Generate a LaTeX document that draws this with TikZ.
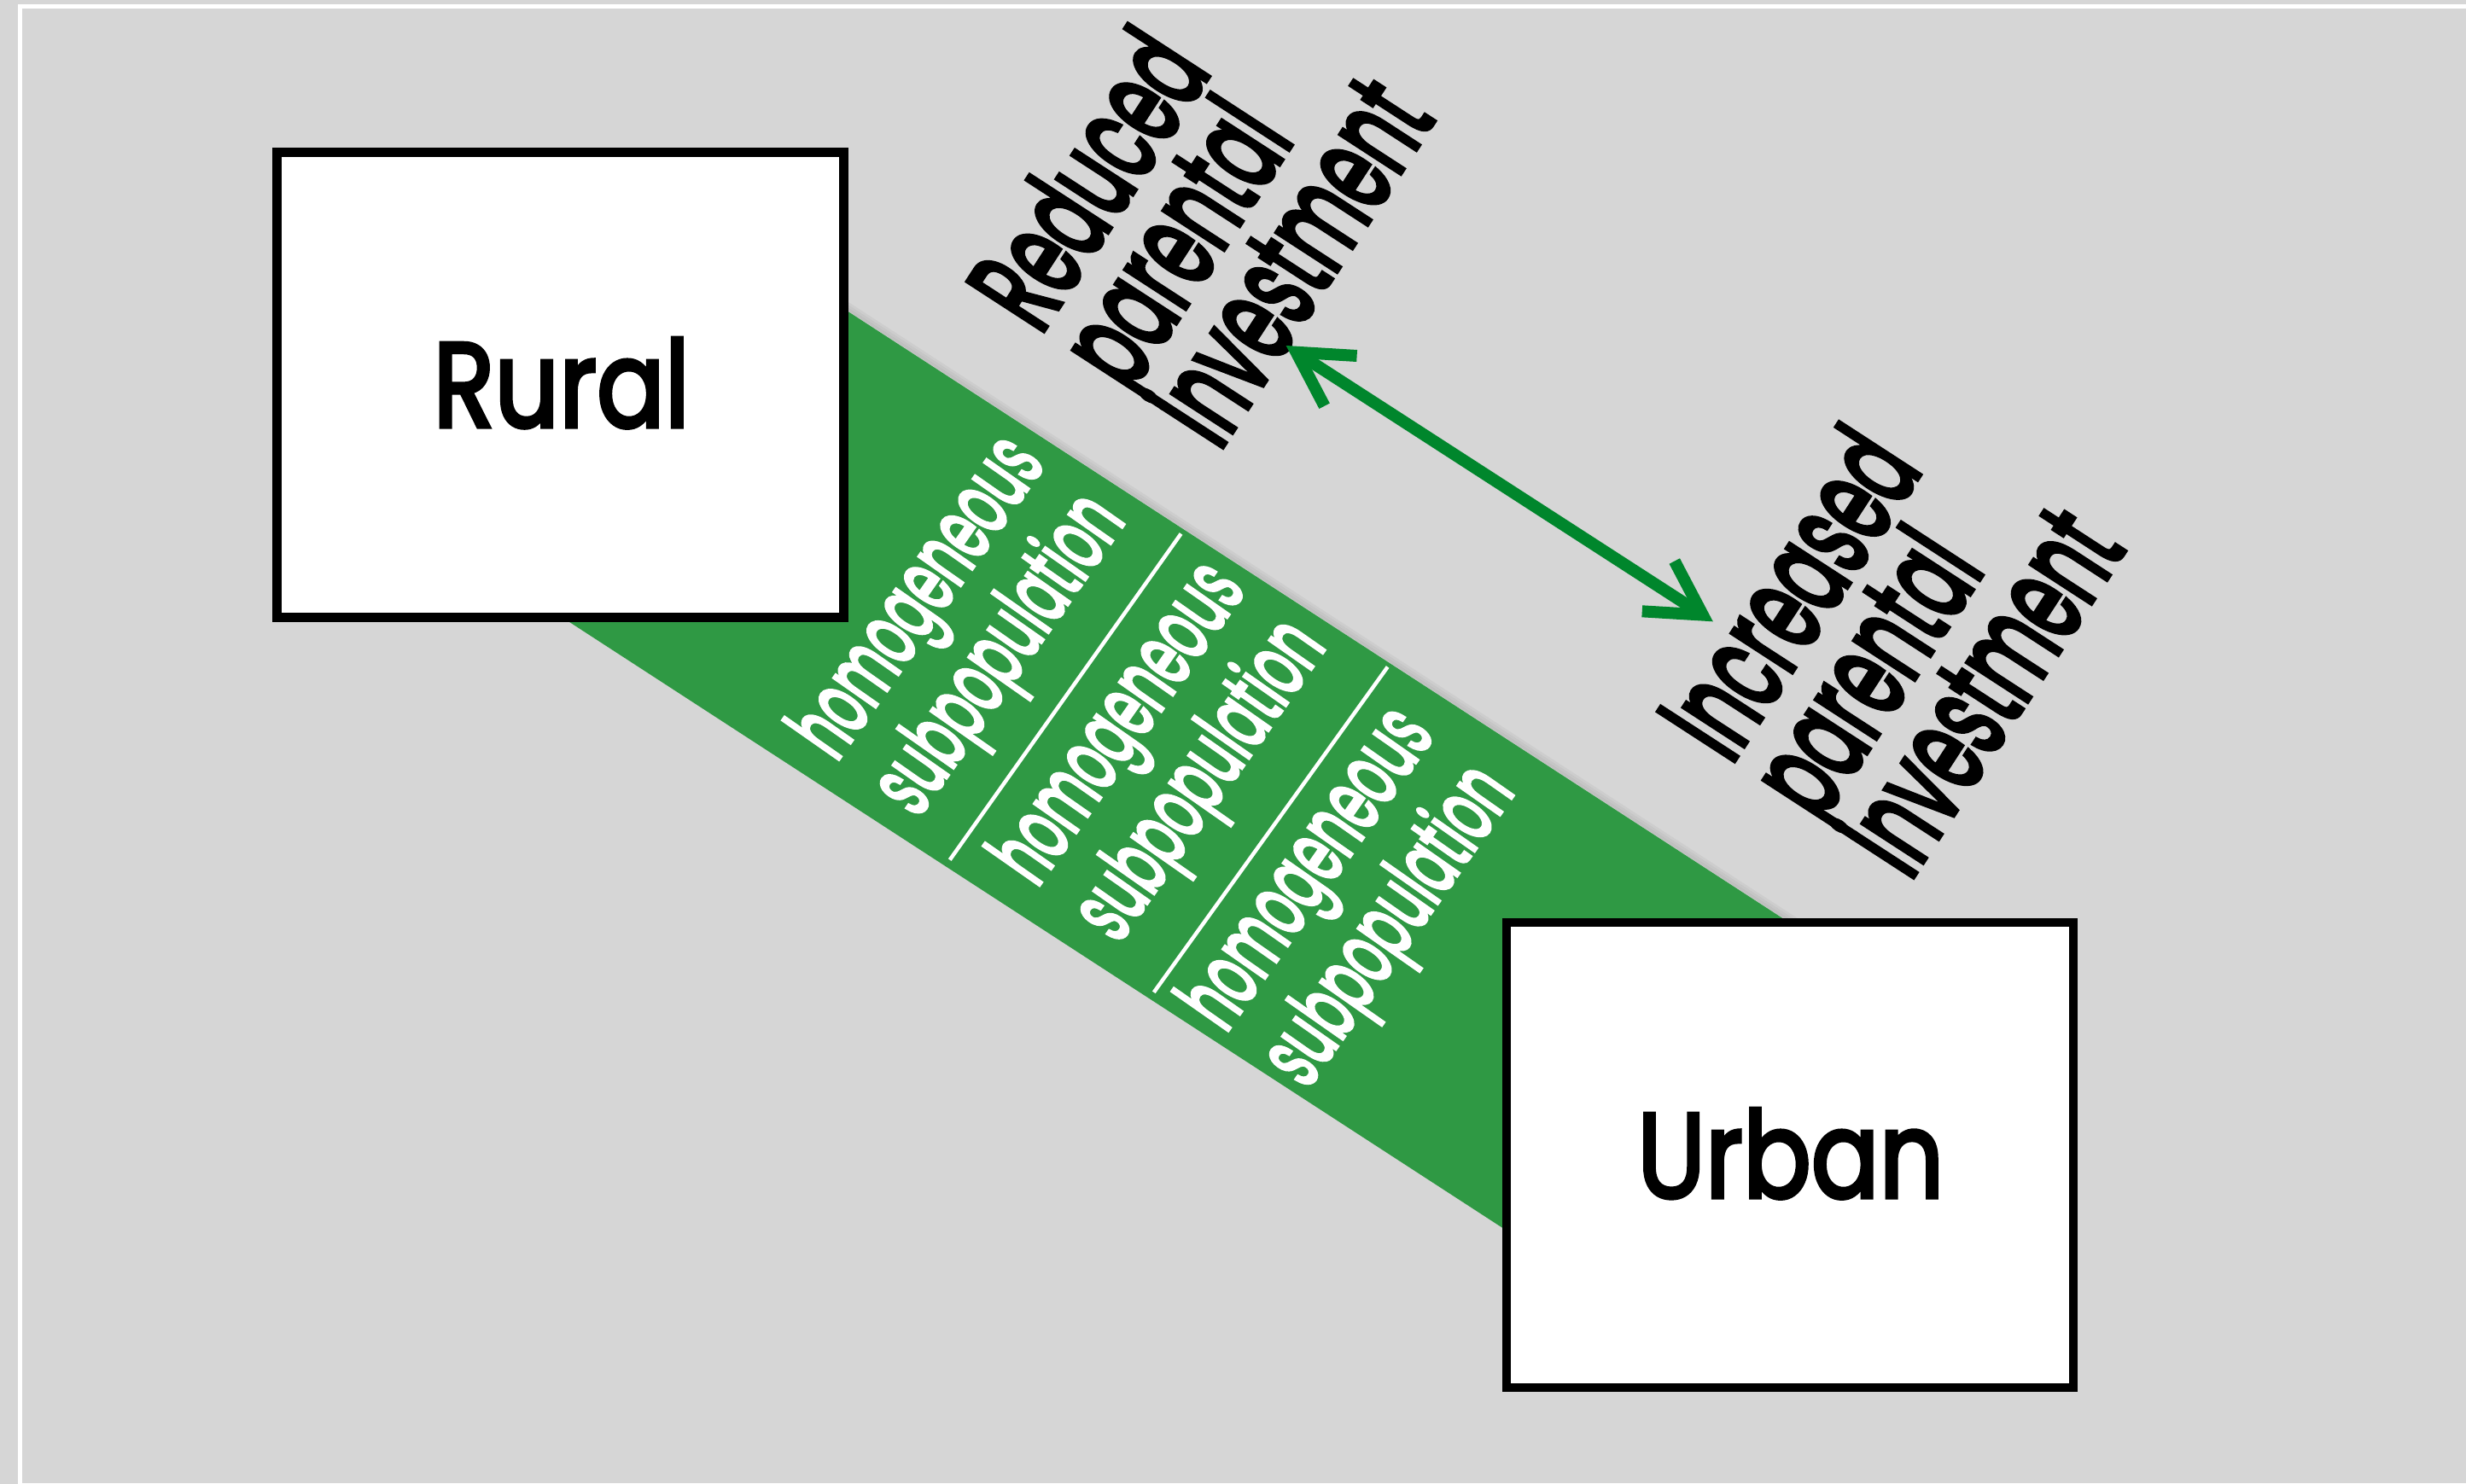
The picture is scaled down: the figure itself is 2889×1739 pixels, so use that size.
\documentclass[tikz,border=0pt]{standalone}
\usepackage{fontspec}
\usetikzlibrary{arrows.meta}
\newfontfamily\geofont{Poppins}[FakeBold=3.5]
\newfontfamily\labelfont{Poppins}[FakeBold=4.5]
\newfontfamily\bandfont{Poppins}[FakeBold=4]
\definecolor{slidegray}{RGB}{214,214,214}
\definecolor{bandgreen}{RGB}{47,153,68}
\definecolor{arrowgreen}{RGB}{0,134,44}

% scale factors that bring a word to a given width and the font to a given cap height
\newsavebox\measbox
\newlength\measw
\newlength\meash
\newcommand\fitfactors[6]{%
  \sbox\measbox{#1#2}\global\measw=\wd\measbox
  \sbox\measbox{#1H}\global\meash=\ht\measbox
  \pgfmathsetmacro#5{(#3)/\measw}\global\let#5#5%
  \pgfmathsetmacro#6{(#4)/\meash}\global\let#6#6}

\begin{document}
\fitfactors{\geofont}{Urban}{35.9mm}{9.8mm}{\boxsx}{\boxsy}%
\fitfactors{\labelfont}{investment}{46.6mm}{10.5mm}{\bigsx}{\bigsy}%
\fitfactors{\bandfont\fontsize{20}{21.5}\selectfont}{homogeneous}{42.8mm}{7.5mm}{\subsx}{\subsy}%
\begin{tikzpicture}[x=0.1mm, y=-0.1mm,
  place/.style={draw=black, fill=white, line width=1.05mm,
    minimum width=66.4mm, minimum height=54.5mm, inner sep=0pt},
  boxlabel/.style={font=\geofont, inner sep=0pt, anchor=base,
    xscale=\boxsx, yscale=\boxsy},
  bigtext/.style={font=\labelfont, inner sep=0pt, anchor=base west,
    rotate=57, xscale=\bigsx, yscale=\bigsy},
  subpop/.style={font=\bandfont\fontsize{20}{21.5}\selectfont, text=white,
    align=center, inner sep=0pt, anchor=center,
    rotate=55, xscale=\subsx, yscale=\subsy},
  divider/.style={white, line width=0.45mm},
  twoway/.style={arrowgreen, line width=1.4mm,
    {Straight Barb[length=6.2mm,width=7mm]}-{Straight Barb[length=6.2mm,width=7mm]}}
  ]
  % slide background and its white frame
  \fill[slidegray] (0,0) rectangle (2889,1739);
  \useasboundingbox (0,0) rectangle (2889,1739);
  \draw[white, line width=0.5mm] (23.5,7) rectangle (2905,1740.5);

  % green band running from the rural place to the urban place
  \begin{scope}[rotate=-33]
    \foreach \o/\k in {0.10/2, 0.07/5, 0.04/8}
      \draw[black, opacity=\o, line width=0.3mm] (800,-235-\k) -- (2500,-235-\k);
    \fill[bandgreen] (800,-235) rectangle (2500,248);
    \draw[divider] (1501,-229) -- (1482,239);
    \draw[divider] (1789,-230) -- (1767,239);
  \end{scope}

  % subpopulations inside the band
  \node[subpop] (sub1) at (1128.5,737) {homogeneous\\subpopulation};
  \node[subpop] (sub2) at (1363.5,884.4) {homogeneous\\subpopulation};
  \node[subpop] (sub3) at (1584.6,1054.8) {homogeneous\\subpopulation};

  % the two places
  \node[place] (rural) at (656.3,451) {};
  \node[place] (urban) at (2097.2,1353.6) {};
  \node[boxlabel] (rurallabel) at (657.8,500.2) {Rural};
  \node[boxlabel] (urbanlabel) at (2097.7,1403.2) {Urban};

  % investment labels
  \node[bigtext] (red1) at (1217.4,394.7) {Reduced};
  \node[bigtext] (red2) at (1322.3,462.8) {parental};
  \node[bigtext] (red3) at (1427.1,530.9) {investment};
  \node[bigtext] (inc1) at (2026.5,898.6) {Increased};
  \node[bigtext] (inc2) at (2131.4,966.7) {parental};
  \node[bigtext] (inc3) at (2236.2,1034.8) {investment};

  % double-headed arrow between the two labels
  \coordinate (arrowtop) at (1506.6,405);
  \coordinate (arrowbot) at (2006.8,728.3);
  \draw[twoway] (arrowtop) -- (arrowbot);
\end{tikzpicture}
\end{document}
